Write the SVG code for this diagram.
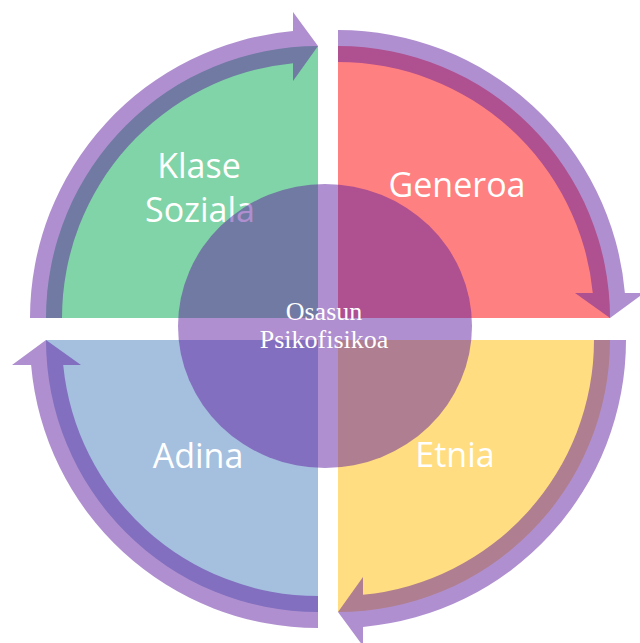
<svg xmlns="http://www.w3.org/2000/svg" width="640" height="643" viewBox="0 0 640 643">
<defs>
<style>
.lbl{font-family:"Open Sans","Noto Sans",sans-serif;font-size:34px;fill:#ffffff;text-anchor:middle}
.ctr{font-family:"Liberation Serif","DejaVu Serif",serif;font-size:26px;fill:#ffffff;text-anchor:middle}
.ov{fill:#6020a0;fill-opacity:0.5}
</style>
<path id="pie" d="M0 0 H-272 A272 272 0 0 1 0 -272 Z"/>
<path id="arr" d="M-288 0 A288 288 0 0 1 -25 -286.9 L-25 -306 L0 -272 L-25 -237 L-25 -254.8 A256 256 0 0 0 -256 0 Z"/>
</defs>
<rect width="640" height="643" fill="#ffffff"/>
<g id="klase-soziala">
<use href="#pie" transform="translate(318,318)" fill="#80d4a7"/>
<text class="lbl" x="199" y="178">Klase</text>
<text class="lbl" x="200" y="222">Soziala</text>
</g>
<g id="generoa">
<use href="#pie" transform="translate(338,318) rotate(90)" fill="#ff8080"/>
<text class="lbl" x="457" y="197">Generoa</text>
</g>
<g id="etnia">
<use href="#pie" transform="translate(338,340) rotate(180)" fill="#ffdd80"/>
<text class="lbl" x="455" y="467">Etnia</text>
</g>
<g id="adina">
<use href="#pie" transform="translate(318,340) rotate(270)" fill="#a5bfdf"/>
<text class="lbl" x="198" y="468">Adina</text>
</g>
<g id="connectors">
<use href="#arr" class="ov" transform="translate(318,318)"/>
<use href="#arr" class="ov" transform="translate(338,318) rotate(90)"/>
<use href="#arr" class="ov" transform="translate(338,340) rotate(180)"/>
<use href="#arr" class="ov" transform="translate(318,340) rotate(270)"/>
</g>
<g id="osasun-psikofisikoa">
<ellipse class="ov" cx="325" cy="326" rx="147" ry="142"/>
<text class="ctr" x="324" y="320">Osasun</text>
<text class="ctr" x="324" y="348">Psikofisikoa</text>
</g>
</svg>
